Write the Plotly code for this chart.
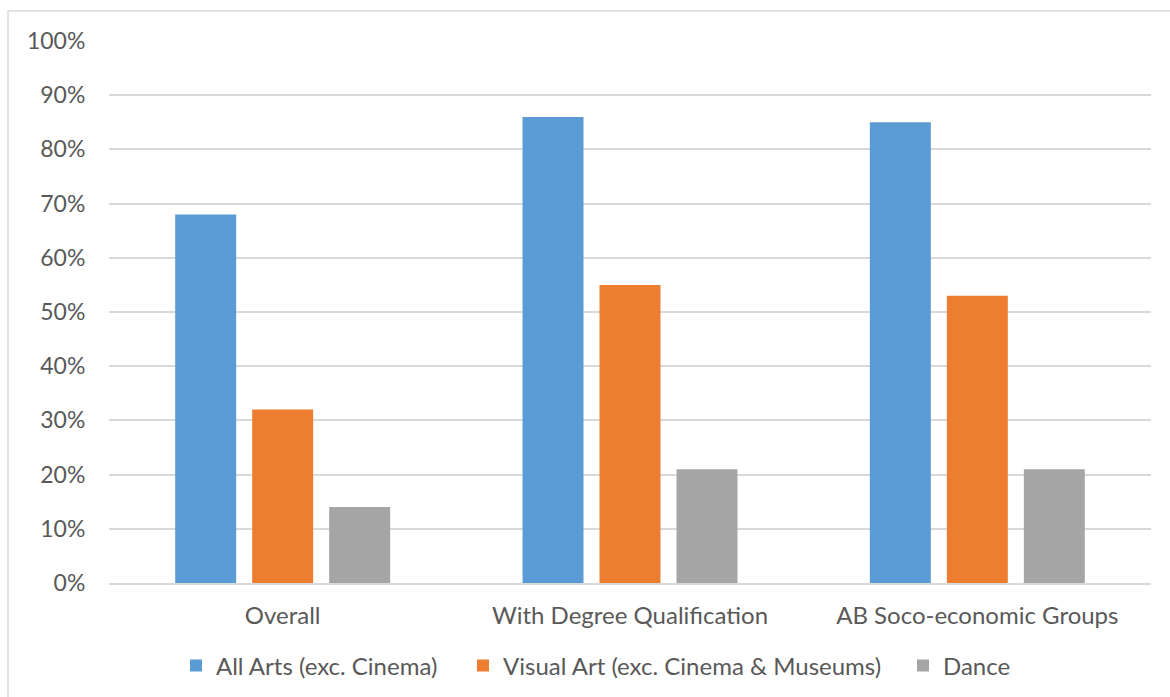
import plotly.graph_objects as go

categories = ["Overall", "With Degree Qualification", "AB Soco-economic Groups"]
series_names = ["All Arts (exc. Cinema)", "Visual Art (exc. Cinema & Museums)", "Dance"]
all_arts = [0.68, 0.86, 0.85]
visual_art = [0.32, 0.55, 0.53]
dance = [0.14, 0.21, 0.21]
colors = ["#5B9BD5", "#ED7D31", "#A5A5A5"]
y_ticks = [0, 0.1, 0.2, 0.3, 0.4, 0.5, 0.6, 0.7, 0.8, 0.9, 1.0]
y_tick_labels = ["0%", "10%", "20%", "30%", "40%", "50%", "60%", "70%", "80%", "90%", "100%"]

TEXT = "#595959"
GRID = "#D9D9D9"
FONT = "Lato"

W, H = 1170, 697
L, R, T, B = 109, 19, 41, 114
pw, ph = W - L - R, H - T - B

def px_x(x):
    return (x - L) / pw

def px_y(y):
    return (H - B - y) / ph

legend_ids = ["legend", "legend2", "legend3"]
legend_marker_left = [193, 480, 920]

fig = go.Figure()
for name, vals, col, lid in zip(series_names, [all_arts, visual_art, dance], colors, legend_ids):
    fig.add_trace(go.Bar(x=categories, y=vals, name=name, legend=lid,
                         marker=dict(color=col, line=dict(width=0))))

legend_layouts = {}
for lid, mx in zip(legend_ids, legend_marker_left):
    legend_layouts[lid] = dict(orientation="h", x=px_x(mx - 17), xanchor="left",
                               y=px_y(666), yanchor="middle",
                               font=dict(family=FONT, size=24, color=TEXT),
                               bgcolor="rgba(0,0,0,0)", borderwidth=0)

fig.update_layout(
    width=W, height=H,
    margin=dict(l=L, r=R, t=T, b=B, pad=0, autoexpand=False),
    paper_bgcolor="white", plot_bgcolor="white",
    font=dict(family=FONT, size=24, color=TEXT),
    barmode="group", bargap=0.335, bargroupgap=0.208,
    showlegend=True,
    xaxis=dict(showgrid=False, showline=True, linecolor=GRID, linewidth=1.5,
               automargin=False,
               ticks="outside", ticklen=10, tickcolor="rgba(0,0,0,0)",
               tickfont=dict(family=FONT, size=24, color=TEXT)),
    yaxis=dict(range=[0, 1], tickvals=y_ticks, ticktext=y_tick_labels,
               automargin=False,
               showgrid=True, gridcolor=GRID, gridwidth=1.5, zeroline=False, showline=False,
               ticks="outside", ticklen=18, tickcolor="rgba(0,0,0,0)",
               tickfont=dict(family=FONT, size=23, color=TEXT)),
    shapes=[dict(type="rect", xref="paper", yref="paper",
                 x0=px_x(8), x1=px_x(1180), y0=px_y(11), y1=px_y(710),
                 line=dict(color=GRID, width=1.5), fillcolor="rgba(0,0,0,0)", layer="below")],
    **legend_layouts,
)

fig.write_html("out.html")
